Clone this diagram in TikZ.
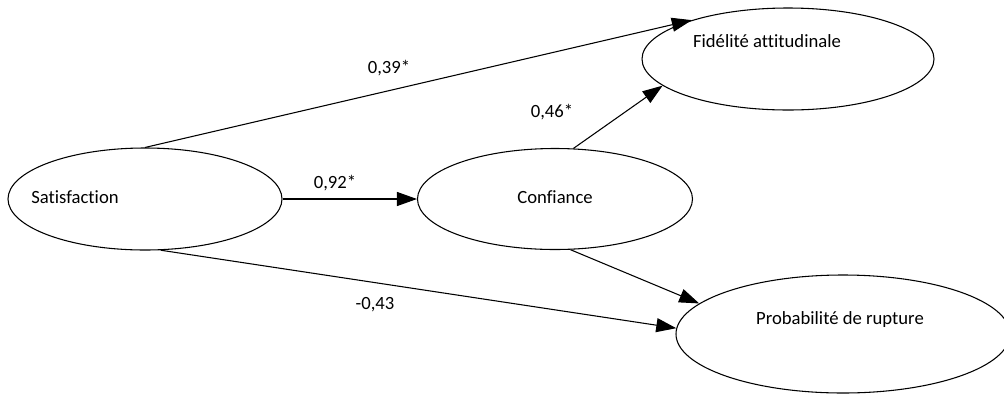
\documentclass[tikz,border=0pt]{standalone}
\usepackage{fontspec}
\setmainfont{Carlito}[Ligatures=NoCommon]
\usetikzlibrary{shapes.geometric,arrows.meta}
\begin{document}
\begin{tikzpicture}[x=0.75pt,y=-0.75pt,
  construct/.style={draw,ellipse,line width=0.8pt,inner sep=0pt},
  txt/.style={font=\fontsize{14}{16}\selectfont,inner sep=0pt},
  path/.style={line width=0.8pt,-{Triangle[length=15pt,width=10.5pt]}}]
\useasboundingbox (0,0) rectangle (1004,394);
\node[construct,minimum width=274*0.75pt,minimum height=102*0.75pt] (sat) at (145,199) {};
\node[construct,minimum width=275*0.75pt,minimum height=101*0.75pt] (conf) at (555,199) {};
\node[construct,minimum width=292*0.75pt,minimum height=102*0.75pt] (fid) at (788,59) {};
\node[construct,minimum width=334*0.75pt,minimum height=118*0.75pt] (prob) at (843,334) {};
\node[txt] (tsat) at (75,197) {Satisfaction};
\node[txt] (tconf) at (555,197) {Confiance};
\node[txt] (tfid) at (767,41) {Fidélité attitudinale};
\node[txt] (tprob) at (840,320) {Probabilité de rupture};
\draw[path] (sat.north) -- (fid.158);
\draw[path] (sat.east) -- (conf.west);
\draw[path] (conf.70) -- (fid.192);
\draw[path] (conf.-73) -- (prob.168);
\draw[path] (sat.-73) -- (prob.178);
\node[txt] (l1) at (389,68) {0,39*};
\node[txt] (l2) at (552,112) {0,46*};
\node[txt] (l3) at (335,183) {0,92*};
\node[txt] (l4) at (375,305) {-0,43};
\end{tikzpicture}
\end{document}
